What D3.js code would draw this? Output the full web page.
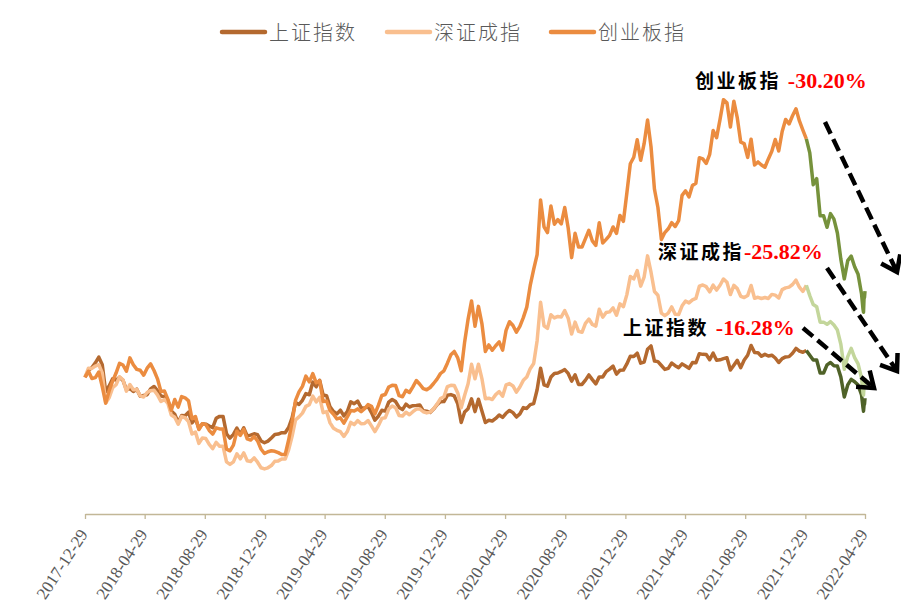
<!DOCTYPE html>
<html>
<head>
<meta charset="utf-8">
<title>上证指数 深证成指 创业板指</title>
<script src="https://d3js.org/d3.v7.min.js"></script>
<style>
  body { margin: 0; background: #fff; }
  svg { display: block; }
</style>
</head>
<body>
<svg id="chart" width="901" height="615"></svg>
<script>
// 周收盘（2017-12-29 起每周五，最后一周按日），单位：点
var seriesNames = ["上证指数", "深证成指", "创业板指"];

var shIndex = [3307,
  3391, 3429, 3487, 3558, 3462, 3129, 3199, 3289, 3273, 3307,
  3269, 3153, 3169, 3131, 3159, 3071, 3082, 3091, 3163, 3193,
  3141, 3075, 3067, 3022, 2889, 2847, 2747, 2831, 2829, 2873,
  2740, 2795, 2669, 2729, 2725, 2702, 2682, 2797, 2821, 2821,
  2606, 2550, 2598, 2676, 2599, 2679, 2579, 2588, 2605, 2593,
  2516, 2494,
  2514, 2553, 2596, 2601, 2618, 2618, 2682, 2804, 2994, 2969,
  3021, 3104, 3090, 3247, 3189, 3270, 3086, 3078, 2939, 2882,
  2852, 2898, 2827, 2882, 3001, 2979, 3011, 2930, 2924, 2944,
  2868, 2774, 2823, 2897, 2886, 2999, 3031, 3006, 2932, 2905,
  2973, 2938, 2954, 2958, 2964, 2891, 2885, 2871, 2912, 2967,
  3004, 3005,
  3083, 3092, 3075, 2977, 2746, 2876, 2917, 3039, 2880, 3034,
  2887, 2745, 2772, 2764, 2796, 2838, 2809, 2860, 2895, 2868,
  2813, 2852, 2930, 2920, 2967, 2980, 3152, 3420, 3214, 3196,
  3310, 3354, 3360, 3380, 3403, 3355, 3260, 3338, 3219, 3218,
  3272, 3336, 3278, 3225, 3312, 3310, 3378, 3408, 3445, 3347,
  3395, 3397,
  3473, 3570, 3566, 3607, 3483, 3496, 3655, 3697, 3509, 3502,
  3454, 3405, 3418, 3484, 3451, 3427, 3474, 3447, 3419, 3490,
  3487, 3600, 3592, 3590, 3525, 3607, 3519, 3524, 3539, 3551,
  3397, 3458, 3517, 3427, 3522, 3581, 3703, 3614, 3613, 3568,
  3592, 3572, 3582, 3547, 3491, 3539, 3560, 3564, 3607, 3666,
  3632, 3618, 3640,
  3580, 3521, 3522, 3361, 3361, 3462, 3491, 3451, 3448, 3310,
  3063, 3212, 3282, 3252, 3211, 3087,
  2929, 2886, 2958, 2975, 3047];

var szIndex = [11040,
  11419, 11409, 11506, 11561, 11219, 9967, 10198, 10604, 10733, 11064,
  10937, 10464, 10740, 10522, 10537, 10271, 10224, 10408, 10486, 10504,
  10310, 10036, 10123, 9960, 9472, 9380, 9092, 9412, 9361, 9197,
  8689, 8765, 8298, 8519, 8498, 8254, 8084, 8339, 8181, 8181,
  7530, 7427, 7532, 7865, 7655, 7903, 7580, 7547, 7698, 7517,
  7287, 7240,
  7284, 7379, 7558, 7571, 7649, 7649, 8027, 8593, 9274, 9399,
  9552, 9833, 9907, 10260, 10016, 10206, 9572, 9619, 9149, 8927,
  8842, 8783, 8586, 8787, 9168, 9078, 9244, 9111, 9123, 9248,
  9025, 8788, 9031, 9335, 9365, 9723, 9852, 9774, 9455, 9434,
  9590, 9487, 9611, 9724, 9727, 9610, 9563, 9595, 9735, 9923,
  10154, 10230,
  10656, 10709, 10702, 10393, 9779, 10298, 10770, 11580, 10980, 11582,
  10987, 10149, 10172, 10118, 10321, 10445, 10253, 10721, 10780, 10680,
  10425, 10637, 10913, 11052, 11398, 11614, 12559, 14150, 13176, 13071,
  13638, 13504, 13565, 13546, 13807, 13491, 12833, 13329, 12946, 12907,
  13280, 13457, 13230, 13165, 13864, 13535, 13731, 13755, 13919, 13619,
  14086, 13968,
  14471, 15220, 15122, 15468, 14822, 15200, 16078, 15400, 14600, 14445,
  13700, 13600, 13704, 13960, 13658, 13642, 14005, 14200, 14128, 14250,
  14310, 14820, 14870, 14800, 14583, 14863, 14660, 14860, 15120, 14980,
  14473, 14853, 14720, 14400, 14350, 14430, 14850, 14320, 14360, 14310,
  14350, 14310, 14480, 14450, 14330, 14680, 14750, 14780, 14890, 15070,
  14780, 14600, 14857,
  14430, 14060, 13970, 13329, 13329, 13240, 13350, 13207, 13000, 12410,
  11370, 11900, 12240, 11860, 11600, 11000,
  10380, 10300, 10660, 10730, 11021];

var cybIndex = [1752,
  1792, 1744, 1750, 1787, 1691, 1582, 1664, 1726, 1780, 1844,
  1833, 1792, 1880, 1835, 1804, 1798, 1766, 1812, 1840, 1797,
  1742, 1659, 1662, 1608, 1535, 1606, 1556, 1625, 1617, 1597,
  1479, 1494, 1408, 1446, 1440, 1402, 1378, 1419, 1412, 1412,
  1279, 1268, 1305, 1397, 1369, 1410, 1347, 1339, 1362, 1333,
  1280, 1250,
  1262, 1268, 1265, 1256, 1243, 1243, 1339, 1456, 1600, 1656,
  1692, 1760, 1722, 1776, 1716, 1729, 1593, 1596, 1533, 1509,
  1478, 1485, 1450, 1491, 1533, 1530, 1544, 1526, 1546, 1572,
  1561, 1511, 1567, 1632, 1639, 1688, 1699, 1698, 1631, 1624,
  1667, 1652, 1689, 1731, 1706, 1677, 1670, 1685, 1711, 1740,
  1777, 1795,
  1845, 1900, 1922, 1880, 1795, 1985, 2135, 2255, 2088, 2219,
  2106, 1922, 1965, 1930, 1960, 1985, 1931, 2061, 2118, 2093,
  2049, 2087, 2145, 2214, 2357, 2463, 2560, 2920, 2743, 2705,
  2880, 2760, 2790, 2762, 2870, 2735, 2540, 2700, 2610, 2610,
  2665, 2720, 2650, 2620, 2770, 2636, 2660, 2686, 2742, 2700,
  2818, 2779,
  2966, 3158, 3201, 3316, 3181, 3290, 3446, 3270, 2990, 2870,
  2660, 2705, 2730, 2770, 2745, 2783, 2950, 2980, 2940, 3015,
  3030, 3198, 3190, 3160, 3220, 3377, 3330, 3450, 3580, 3560,
  3400, 3570, 3460, 3300, 3290, 3200, 3320, 3150, 3170, 3150,
  3135, 3190, 3240, 3318, 3242, 3370, 3450, 3420, 3474, 3520,
  3440, 3380, 3322,
  3230, 3020, 3060, 2815, 2815, 2740, 2830, 2793, 2702, 2530,
  2400, 2520, 2550, 2480, 2430, 2300,
  2200, 2180, 2270, 2280, 2320];

var tickLabels = ["2017-12-29", "2018-04-29", "2018-08-29", "2018-12-29", "2019-04-29",
  "2019-08-29", "2019-12-29", "2020-04-29", "2020-08-29", "2020-12-29",
  "2021-04-29", "2021-08-29", "2021-12-29", "2022-04-29"];

var tailDates = ["2022-04-25", "2022-04-26", "2022-04-27", "2022-04-28", "2022-04-29"];
var splitDate = "2021-12-31";   // 2022年以来标绿

var annotations = [
  {name: "创业板指", pct: "-30.20%", sep: " "},
  {name: "深证成指", pct: "-25.82%", sep: ""},
  {name: "上证指数", pct: "-16.28%", sep: " "}
];

var colors = ["#B4692F", "#F9BF8F", "#EB8C40"];
var greens = ["#4F6228", "#C3D69B", "#76923C"];

var parse = d3.timeParse("%Y-%m-%d");
var startDate = parse(tickLabels[0]);
var dates = d3.range(226).map(function(i) { return d3.timeDay.offset(startDate, 7 * i); })
  .concat(tailDates.map(parse));
var split = parse(splitDate);

var svg = d3.select("#chart");

var x = d3.scaleTime()
  .domain([startDate, parse(tickLabels[tickLabels.length - 1])])
  .range([85, 865]);

var y = d3.scaleLinear()
  .domain([0.49, 2.2])
  .range([513, 58]);

var allSeries = [shIndex, szIndex, cybIndex].map(function(arr) {
  return arr.map(function(v, i) { return {date: dates[i], value: v / arr[0]}; });
});

var line = d3.line()
  .x(function(d) { return x(d.date); })
  .y(function(d) { return y(d.value); });

// x 轴
var xAxis = d3.axisBottom(x)
  .tickValues(tickLabels.map(parse))
  .tickFormat(d3.timeFormat("%Y-%m-%d"))
  .tickSize(5)
  .tickSizeOuter(0);

var gx = svg.append("g")
  .attr("transform", "translate(0,514)")
  .call(xAxis);
gx.select(".domain").attr("stroke", "#C2B797").attr("stroke-width", 1.3);
gx.selectAll(".tick line").attr("stroke", "#C2B797").attr("stroke-width", 1.3);
gx.selectAll(".tick text")
  .attr("x", 0).attr("y", 0).attr("dy", null)
  .attr("transform", "translate(3,20) rotate(-57)")
  .style("text-anchor", "end")
  .style("font-family", "'Liberation Serif', 'Times New Roman', serif")
  .style("font-size", "17px")
  .attr("fill", "#595959");

// 折线
allSeries.forEach(function(s, i) {
  svg.append("path")
    .datum(s.filter(function(d) { return d.date <= split; }))
    .attr("d", line)
    .attr("fill", "none")
    .attr("stroke", colors[i])
    .attr("stroke-width", 3.5)
    .attr("stroke-linejoin", "round");
});
allSeries.forEach(function(s, i) {
  svg.append("path")
    .datum(s.filter(function(d) { return d.date >= split; }))
    .attr("d", line)
    .attr("fill", "none")
    .attr("stroke", greens[i])
    .attr("stroke-width", 3.5)
    .attr("stroke-linejoin", "round");
});

// 图例
var legendX = [222, 387, 551];
var legend = svg.append("g");
seriesNames.forEach(function(name, i) {
  legend.append("line")
    .attr("x1", legendX[i]).attr("x2", legendX[i] + 43)
    .attr("y1", 32).attr("y2", 32)
    .attr("stroke", colors[i]).attr("stroke-width", 4.5)
    .attr("stroke-linecap", "round");
  legend.append("text")
    .attr("x", legendX[i] + 47).attr("y", 39.5)
    .text(name)
    .style("font-family", "'Noto Sans CJK SC', sans-serif")
    .style("font-size", "20px")
    .style("font-weight", 300)
    .style("letter-spacing", "2px")
    .attr("fill", "#595959");
});

// 标注
var annoPos = [[695, 88], [658, 259], [623, 335]];
annotations.forEach(function(a, i) {
  var t = svg.append("text")
    .attr("x", annoPos[i][0]).attr("y", annoPos[i][1]);
  t.append("tspan")
    .text(a.name + a.sep)
    .style("font-family", "'Noto Sans CJK SC', sans-serif")
    .style("font-size", "19px")
    .style("font-weight", 700)
    .style("letter-spacing", "2.5px")
    .attr("fill", "#000");
  t.append("tspan")
    .text(a.pct)
    .style("font-family", "'Liberation Serif', 'Times New Roman', serif")
    .style("font-size", "22px")
    .style("font-weight", 700)
    .attr("fill", "#FF0000");
});

// 虚线箭头
var arrows = [
  [[825, 122], [897, 272]],
  [[827, 268], [897, 371]],
  [[803, 328], [874, 388]]
];
arrows.forEach(function(a) {
  var p0 = a[0], p1 = a[1];
  var ang = Math.atan2(p1[1] - p0[1], p1[0] - p0[0]);
  var len = Math.hypot(p1[0] - p0[0], p1[1] - p0[1]);
  svg.append("line")
    .attr("x1", p0[0]).attr("y1", p0[1])
    .attr("x2", p0[0] + Math.cos(ang) * (len - 3))
    .attr("y2", p0[1] + Math.sin(ang) * (len - 3))
    .attr("stroke", "#000").attr("stroke-width", 4.5)
    .attr("stroke-dasharray", "13,6");
  var hl = 18, ha = Math.PI / 5;
  var pa = [p1[0] - hl * Math.cos(ang - ha), p1[1] - hl * Math.sin(ang - ha)];
  var pb = [p1[0] - hl * Math.cos(ang + ha), p1[1] - hl * Math.sin(ang + ha)];
  svg.append("path")
    .attr("d", "M" + pa + "L" + p1 + "L" + pb)
    .attr("fill", "none")
    .attr("stroke", "#000").attr("stroke-width", 4.5)
    .attr("stroke-linejoin", "miter");
});
</script>
</body>
</html>
